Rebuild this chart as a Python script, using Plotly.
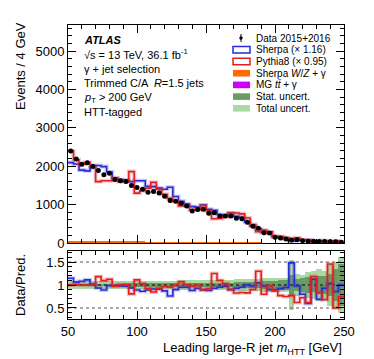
import numpy as np
import plotly.graph_objects as go

# ---------------- data ----------------
bin_edges = list(range(50, 254, 4))  # 50..250, 4 GeV bins

data_counts = [2400, 2190, 2055, 2090, 2000, 1890, 1775, 1820, 1655, 1620,
               1600, 1500, 1445, 1400, 1320, 1340, 1300, 1220, 1105, 1090,
               1035, 965, 835, 870, 880, 775, 790, 705, 705, 705,
               645, 635, 540, 435, 385, 270, 260, 150, 130, 105,
               80, 85, 60, 45, 45, 40, 40, 35, 30, 20]

sherpa_counts = [2095, 2060, 1900, 1880, 1960, 2020, 1990, 1850, 1680, 1650,
                 1640, 1600, 1620, 1620, 1480, 1470, 1430, 1400, 1454, 1211,
                 1089, 1016, 949, 935, 989, 881, 849, 742, 727, 783,
                 694, 668, 540, 444, 367, 276, 289, 167, 141, 111,
                 54, 87, 75, 75, 40, 58, 43, 34, 35, 20]

pythia_counts = [2400, 2168, 2055, 2100, 2000, 1600, 1620, 1620, 1700, 1600,
                 1600, 1860, 1300, 1360, 1430, 1580, 1398, 1270, 1163, 1090,
                 967, 965, 861, 870, 978, 842, 632, 641, 684, 783,
                 780, 760, 651, 483, 296, 338, 265, 172, 169, 140,
                 104, 137, 83, 73, 38, 48, 59, 24, 60, 27]

wz_counts = [42, 40, 39, 37, 36, 34, 33, 31, 30, 29,
             28, 27, 26, 25, 24, 23, 22, 21, 20, 19,
             18, 17, 16, 15, 14, 13, 12, 11, 10, 9,
             8, 7, 6, 5, 4, 0, 0, 0, 0, 0,
             0, 0, 0, 0, 0, 0, 0, 0, 0, 0]

ttg_counts = [2, 2, 2, 2, 2, 2, 2, 2, 2, 2,
              2, 2, 2, 2, 2, 1, 1, 1, 1, 1,
              1, 1, 1, 1, 1, 1, 1, 1, 1, 1,
              0, 0, 0, 0, 0, 0, 0, 0, 0, 0,
              0, 0, 0, 0, 0, 0, 0, 0, 0, 0]

stat_unc = [0.03, 0.03, 0.03, 0.03, 0.03, 0.03, 0.03, 0.03, 0.03, 0.03,
            0.035, 0.035, 0.035, 0.035, 0.035, 0.035, 0.035, 0.035, 0.035, 0.035,
            0.04, 0.04, 0.04, 0.04, 0.04, 0.05, 0.05, 0.05, 0.05, 0.05,
            0.06, 0.06, 0.06, 0.06, 0.06, 0.08, 0.08, 0.08, 0.10, 0.10,
            0.22, 0.12, 0.15, 0.18, 0.15, 0.2, 0.2, 0.25, 0.35, 0.45]

total_unc = [0.08, 0.08, 0.08, 0.08, 0.08, 0.08, 0.08, 0.08, 0.08, 0.08,
             0.09, 0.09, 0.09, 0.09, 0.09, 0.09, 0.09, 0.09, 0.09, 0.09,
             0.10, 0.10, 0.10, 0.10, 0.10, 0.11, 0.11, 0.11, 0.11, 0.11,
             0.13, 0.13, 0.13, 0.13, 0.13, 0.15, 0.15, 0.15, 0.15, 0.15,
             0.55, 0.25, 0.22, 0.28, 0.3, 0.35, 0.3, 0.45, 0.5, 0.6]

y_ticks_main = [0, 1000, 2000, 3000, 4000, 5000]
y_ticks_ratio = [0.5, 1, 1.5]
x_ticks = [50, 100, 150, 200, 250]

# ---------------- helpers ----------------
edges = np.array(bin_edges, dtype=float)
centers = 0.5 * (edges[:-1] + edges[1:])
widths = np.diff(edges)
d = np.array(data_counts, dtype=float)
sh = np.array(sherpa_counts, dtype=float)
py = np.array(pythia_counts, dtype=float)
wz = np.array(wz_counts, dtype=float)
tg = np.array(ttg_counts, dtype=float)


def step(vals):
    xs = list(edges)
    ys = list(vals) + [vals[-1]]
    return xs, ys


FONT = "Liberation Sans, Arial, Helvetica, sans-serif"
BLUE = "#2a2ad8"
RED = "#e02020"
ORANGE = "#ff6a00"
PURPLE = "#cc00ff"
DKGREEN = "#6a9a66"
LTGREEN = "#a9d9a4"

fig = go.Figure()

# --- main panel: small backgrounds (ttgamma stacked under W/Z+gamma) ---
fig.add_trace(go.Bar(x=centers, y=tg, width=widths,
                     marker=dict(color=PURPLE, line_width=0), xaxis="x", yaxis="y", showlegend=False))
fig.add_trace(go.Bar(x=centers, y=wz + tg, width=widths, marker=dict(color=ORANGE, line_width=0),
                     xaxis="x", yaxis="y", showlegend=False))

for vals, col, halo in [(sh, BLUE, "rgba(42,42,216,0.25)"), (py, RED, "rgba(224,32,32,0.25)")]:
    xs, ys = step(vals)
    fig.add_trace(go.Scatter(x=xs, y=ys, mode="lines", line=dict(shape="hv", color=halo, width=4),
                             xaxis="x", yaxis="y", showlegend=False, hoverinfo="skip"))
    fig.add_trace(go.Scatter(x=xs, y=ys, mode="lines", line=dict(shape="hv", color=col, width=1.6),
                             xaxis="x", yaxis="y", showlegend=False))

fig.add_trace(go.Scatter(x=centers, y=d, mode="markers",
                         marker=dict(color="black", size=5),
                         error_y=dict(type="data", array=np.sqrt(d), color="black", thickness=1, width=0),
                         xaxis="x", yaxis="y", showlegend=False))

# --- ratio panel ---
tot = np.array(total_unc)
st = np.array(stat_unc)
fig.add_trace(go.Bar(x=centers, y=2 * tot, base=1 - tot, width=widths,
                     marker=dict(color=LTGREEN, line_width=0), xaxis="x2", yaxis="y2", showlegend=False))
fig.add_trace(go.Bar(x=centers, y=2 * st, base=1 - st, width=widths,
                     marker=dict(color=DKGREEN, line_width=0), xaxis="x2", yaxis="y2", showlegend=False))

for yv, col in [(0.5, "#555555"), (1.5, "#555555"), (1.0, "black")]:
    fig.add_trace(go.Scatter(x=[edges[0], edges[-1]], y=[yv, yv], mode="lines",
                             line=dict(color=col, width=1, dash="dot"),
                             xaxis="x2", yaxis="y2", showlegend=False, hoverinfo="skip"))

for vals, col, halo in [(d / sh, BLUE, "rgba(42,42,216,0.25)"), (d / py, RED, "rgba(224,32,32,0.25)")]:
    xs, ys = step(vals)
    fig.add_trace(go.Scatter(x=xs, y=ys, mode="lines", line=dict(shape="hv", color=halo, width=4),
                             xaxis="x2", yaxis="y2", showlegend=False, hoverinfo="skip"))
    fig.add_trace(go.Scatter(x=xs, y=ys, mode="lines", line=dict(shape="hv", color=col, width=1.6),
                             xaxis="x2", yaxis="y2", showlegend=False))

# ---------------- layout ----------------
W, H = 374, 359
ML, MR, MT, MB = 60, 38, 17, 48
PW = W - ML - MR
PH = H - MT - MB


def px_x(x):
    return (x - ML) / PW


def px_y(y):
    return (H - MB - y) / PH


main_bottom = px_y(235)
ratio_top = px_y(243)

axis_common = dict(showline=True, linecolor="black", linewidth=1, mirror="allticks",
                   ticks="inside", ticklen=8, tickcolor="black", tickwidth=1,
                   showgrid=False, zeroline=False,
                   tickfont=dict(family=FONT, size=13, color="black"))

fig.update_layout(
    width=W, height=H,
    margin=dict(l=ML, r=MR, t=MT, b=MB, pad=0),
    paper_bgcolor="white", plot_bgcolor="white",
    barmode="overlay", bargap=0,
    font=dict(family=FONT, color="black"),
    xaxis=dict(axis_common, domain=[0, 1], range=[50, 250], anchor="y", tickvals=x_ticks,
               showticklabels=False, minor=dict(dtick=10, tick0=50, ticks="inside", ticklen=4, tickcolor="black")),
    yaxis=dict(axis_common, domain=[main_bottom, 1], range=[0, 5680], anchor="x", tickvals=y_ticks_main,
               minor=dict(dtick=200, tick0=0, ticks="inside", ticklen=4, tickcolor="black")),
    xaxis2=dict(axis_common, domain=[0, 1], range=[50, 250], anchor="y2", tickvals=x_ticks,
                minor=dict(dtick=10, tick0=50, ticks="inside", ticklen=4, tickcolor="black")),
    yaxis2=dict(axis_common, domain=[0, ratio_top], range=[0.26, 1.74], anchor="x2",
                tickvals=y_ticks_ratio, ticktext=["0.5", "1", "1.5"],
                minor=dict(dtick=0.1, tick0=0, ticks="inside", ticklen=4, tickcolor="black")),
)

ann = []
# left text block
lines = [
    ("<b><i>ATLAS</i></b>", 32),
    ("√s = 13 TeV, 36.1 fb<sup>-1</sup>", 46.5),
    ("γ + jet selection", 61),
    ("Trimmed C/A  <i>R</i>=1.5 jets", 75.3),
    ("<i>p</i><sub>T</sub> > 200 GeV", 89.5),
    ("HTT-tagged", 103.5),
]
for txt, yy in lines:
    ann.append(dict(text=txt, x=px_x(74), y=px_y(yy), xref="paper", yref="paper",
                    xanchor="left", yanchor="middle", showarrow=False,
                    font=dict(family=FONT, size=11, color="black")))

# legend (manual)
leg_items = [
    ("Data 2015+2016", 30, "data"),
    ("Sherpa (× 1.16)", 41.8, ("white", BLUE)),
    ("Pythia8 (× 0.95)", 53.5, ("white", RED)),
    ("Sherpa <i>W</i>/<i>Z</i> + γ", 65.2, (ORANGE, ORANGE)),
    ("MG <i>tt\u0304</i> + γ", 76.9, (PURPLE, PURPLE)),
    ("Stat. uncert.", 88.6, (DKGREEN, DKGREEN)),
    ("Total uncert.", 100.3, (LTGREEN, LTGREEN)),
]
shapes = []
for txt, yy, sty in leg_items:
    ann.append(dict(text=txt, x=px_x(245.5), y=px_y(yy), xref="paper", yref="paper",
                    xanchor="left", yanchor="middle", showarrow=False,
                    font=dict(family=FONT, size=10, color="black")))
    if sty == "data":
        shapes.append(dict(type="line", xref="paper", yref="paper",
                           x0=px_x(233), x1=px_x(233), y0=px_y(yy - 4), y1=px_y(yy + 4),
                           line=dict(color="black", width=1)))
        shapes.append(dict(type="circle", xref="paper", yref="paper",
                           x0=px_x(231.3), x1=px_x(234.7), y0=px_y(yy + 1.7), y1=px_y(yy - 1.7),
                           fillcolor="black", line=dict(color="black", width=0)))
    else:
        fill, edge = sty
        shapes.append(dict(type="rect", xref="paper", yref="paper",
                           x0=px_x(225), x1=px_x(242), y0=px_y(yy + 3.3), y1=px_y(yy - 3.3),
                           fillcolor=fill, line=dict(color=edge, width=1.5 if fill == "white" else 0)))

# axis titles
ann.append(dict(text="Events / 4 GeV", x=px_x(12), y=px_y(58), xref="paper", yref="paper",
                textangle=-90, xanchor="center", yanchor="middle", showarrow=False,
                font=dict(family=FONT, size=13, color="black")))
ann.append(dict(text="Data/Pred.", x=px_x(12), y=px_y(277), xref="paper", yref="paper",
                textangle=-90, xanchor="center", yanchor="middle", showarrow=False,
                font=dict(family=FONT, size=13, color="black")))
ann.append(dict(text="Leading large-R jet <i>m</i><sub>HTT</sub> [GeV]", x=px_x(336), y=px_y(341),
                xref="paper", yref="paper", xanchor="right", yanchor="middle", showarrow=False,
                font=dict(family=FONT, size=13, color="black")))

fig.update_layout(annotations=ann, shapes=shapes)

fig.write_html("out.html")
